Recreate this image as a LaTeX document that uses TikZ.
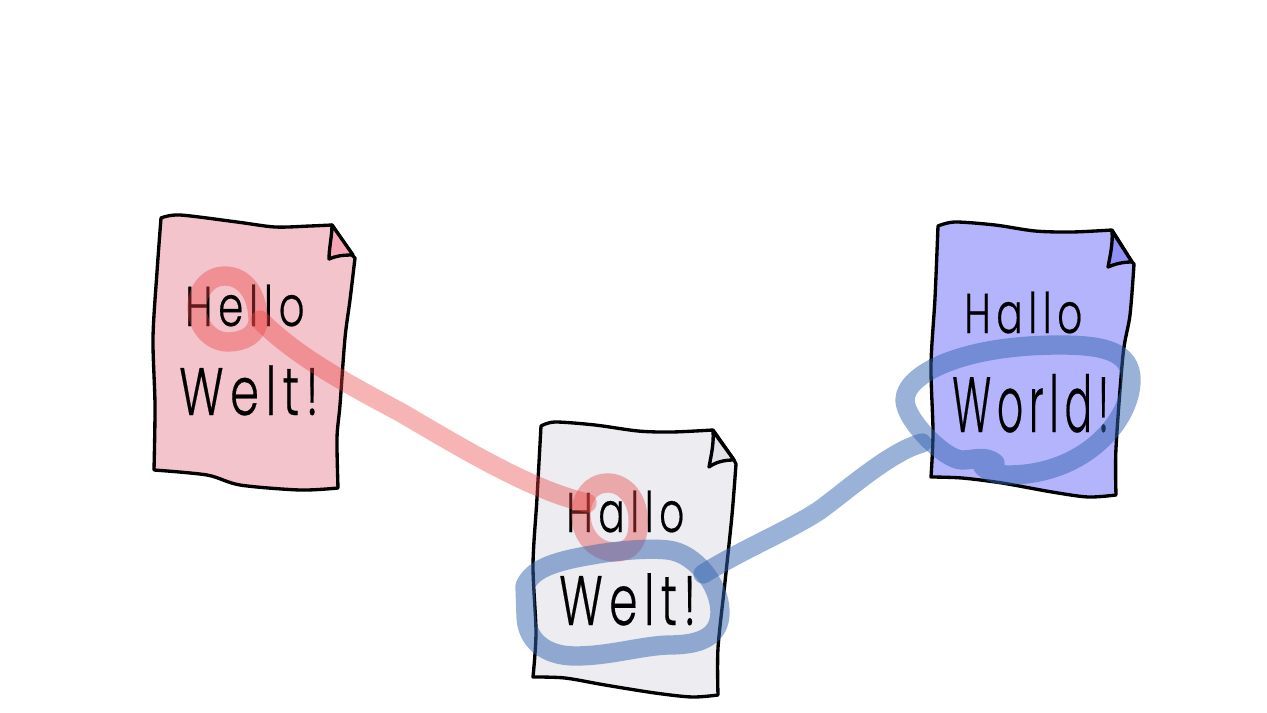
\documentclass[tikz,border=0pt]{standalone}
\usepackage{fontspec}
\newfontfamily\hand[LetterSpace=14,FakeBold=0.4]{Poppins Light}
\definecolor{pinkdoc}{RGB}{244,196,204}
\definecolor{pinkfold}{RGB}{244,166,180}
\definecolor{greydoc}{RGB}{236,236,241}
\definecolor{greyfold}{RGB}{226,226,232}
\definecolor{bluedoc}{RGB}{180,180,252}
\definecolor{bluefold}{RGB}{144,144,250}
\definecolor{redmark}{RGB}{235,68,68}
\definecolor{bluemark}{RGB}{53,101,177}
\tikzset{
  sheet/.style={draw=black,line width=2.5pt,line join=round,line cap=round},
  word/.style={inner sep=0pt,anchor=base west,font=\hand\fontsize{42}{46}\selectfont},
  redstroke/.style={draw=redmark,opacity=.4,line width=14.5pt,line cap=round,line join=round},
  bluestroke/.style={draw=bluemark,opacity=.5,line width=14.5pt,line cap=round,line join=round}
}
\begin{document}
\begin{tikzpicture}[x=.75pt,y=-.75pt]
\useasboundingbox (0,0) rectangle (1267,713);
% pink sheet
\path[sheet,fill=pinkdoc] plot[smooth] coordinates {(161,218)(180,215)(237,222)(275,227)(310,226)(332,225)} -- (353,256)
 -- plot[smooth] coordinates {(355,258)(350,300)(345,338)(340,405)(337,438)(338,488)}
 -- plot[smooth] coordinates {(338,488)(300,490)(240,485)(207,475)(154,470)}
 -- plot[smooth] coordinates {(154,470)(155,405)(153,338)(157,272)(161,218)} -- cycle;
\path[sheet,fill=pinkfold] (332,225) -- (353,255) .. controls (342,255) and (336,256) .. (329,259) .. controls (329,248) and (332,236) .. (332,225);
% grey sheet
\path[sheet,fill=greydoc] plot[smooth] coordinates {(541,426)(555,422)(595,425)(638,431)(672,432)(713,430)} -- (734,460)
 -- plot[smooth] coordinates {(736,464)(732,515)(725,582)(718,648)(718,695)}
 -- plot[smooth] coordinates {(718,695)(692,697)(655,693)(605,685)(565,678)(533,677)}
 -- plot[smooth] coordinates {(533,677)(536,632)(533,565)(537,498)(541,426)} -- cycle;
\path[sheet,fill=greyfold] (713,431) -- (734,460) .. controls (724,460) and (716,462) .. (709,467) .. controls (711,456) and (714,444) .. (713,431);
% blue sheet
\path[sheet,fill=bluedoc] plot[smooth] coordinates {(938,226)(955,222)(995,225)(1035,231)(1072,232)(1112,230)} -- (1132,262)
 -- plot[smooth] coordinates {(1134,264)(1130,315)(1123,355)(1116,448)(1116,495)}
 -- plot[smooth] coordinates {(1116,495)(1088,497)(1052,492)(1002,483)(962,478)(931,477)}
 -- plot[smooth] coordinates {(931,477)(933,432)(931,365)(935,298)(938,226)} -- cycle;
\path[sheet,fill=bluefold] (1112,231) -- (1132,262) .. controls (1122,262) and (1115,264) .. (1108,267) .. controls (1110,256) and (1113,244) .. (1112,231);
% texts
\node[word,xscale=.72] (t1) at (185,326) {Hello};
\node[word,xscale=.83,yscale=1.2] (t2) at (179,415) {Welt!};
\node[word,xscale=.70] (t3) at (566,532) {Hallo};
\node[word,xscale=.815,yscale=1.25] (t4) at (559,625) {Welt!};
\node[word,xscale=.70] (t5) at (964,333) {Hallo};
\node[word,xscale=.73,yscale=1.4] (t6) at (952,432) {World!};
% marks
\coordinate (helloEnd) at (260,320);
\coordinate (halloEnd) at (587,503);
\coordinate (weltEnd) at (703,574);
\coordinate (worldEnd) at (922,443);
\path[redstroke] (258,320) .. controls (258,295) and (245,276) .. (225,276) .. controls (207,276) and (197,292) .. (197,307) .. controls (197,328) and (212,342) .. (228,342) .. controls (243,342) and (258,335) .. (258,320) -- cycle;
\path[redstroke] (helloEnd) .. controls (295,355) and (340,380) .. (400,412) .. controls (460,447) and (530,490) .. (halloEnd);
\path[redstroke] (638,525) .. controls (640,500) and (625,483) .. (608,483) .. controls (590,483) and (581,498) .. (581,515) .. controls (581,535) and (595,552) .. (615,552) .. controls (630,552) and (638,542) .. (638,525) -- cycle;
\path[bluestroke] (525,586) .. controls (532,570) and (550,562) .. (592,555) .. controls (620,550) and (650,548) .. (668,550) .. controls (695,553) and (720,585) .. (720,612) .. controls (720,640) and (695,645) .. (668,645) .. controls (640,646) and (610,656) .. (575,656) .. controls (545,656) and (526,640) .. (526,615) -- (525,586);
\path[bluestroke] (weltEnd) .. controls (745,548) and (790,530) .. (820,510) .. controls (850,488) and (890,452) .. (worldEnd);
\path[bluestroke] (995,463) .. controls (985,455) and (975,460) .. (962,460) .. controls (945,460) and (905,420) .. (905,400) .. controls (905,375) and (960,345) .. (1060,345) .. controls (1105,345) and (1131,352) .. (1131,380) .. controls (1131,420) and (1085,475) .. (1008,475) .. controls (995,475) and (985,470) .. (982,465);
\end{tikzpicture}
\end{document}
